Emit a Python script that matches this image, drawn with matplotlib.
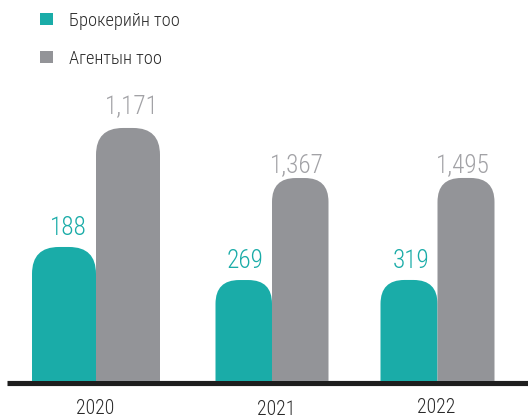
import matplotlib
matplotlib.use("Agg")
import matplotlib.pyplot as plt
from matplotlib.patches import FancyBboxPatch, Rectangle

plt.rcParams['font.family'] = ['Roboto Condensed', 'DejaVu Sans']
plt.rcParams['font.weight'] = 300

# --- data ---
years = ['2020', '2021', '2022']
broker = [188, 269, 319]
agent = [1171, 1367, 1495]
series_names = ['Брокерийн тоо', 'Агентын тоо']

TEAL = '#1aaca8'
GRAY = '#939498'
GRAY_TXT = '#a2a2a6'
DARK = '#2a2a2a'

# --- layout (pixels, figure is 528x419) ---
W, H = 528, 419
BASE_Y = 381          # bar baseline
TOP_Y = 100           # top of the bar area
group_x = [96, 272, 437.5]     # join between the two bars of a group
bar_w = [64, 56.5, 57]
# each year gets its own vertical scale
group_ylim = [(-919, 1402), (-818, 2207), (-846, 2394)]
label_gap = [(12, 15), (12, 6), (12, 6)]
label_dx = [(4, 4), (1.5, -3), (2, -3.5)]
year_base = [414, 415, 413]
year_x = [95.5, 276.5, 436]

fig = plt.figure(figsize=(W / 100, H / 100), dpi=100)

# background axes in pixel coordinates for legend, baseline and year labels
base = fig.add_axes([0, 0, 1, 1])
base.set_xlim(0, W)
base.set_ylim(H, 0)
base.axis('off')


def rounded_bar(ax, x0, width, value, color, lo, aspect):
    r = width * 0.42
    # start the box below the axes so only the top corners show rounded
    bottom = lo - r * aspect * 3
    box = FancyBboxPatch((x0, bottom), width, value - bottom,
                         boxstyle=f"round,pad=0,rounding_size={r}",
                         mutation_aspect=aspect, fc=color, ec='none')
    ax.add_patch(box)


area_h = BASE_Y - TOP_Y
px = 0.72  # points per pixel at dpi 100
for i, year in enumerate(years):
    ax = fig.add_axes([0, (H - BASE_Y) / H, 1, area_h / H])
    ax.set_xlim(0, W)
    lo, hi = group_ylim[i]
    ax.set_ylim(lo, hi)
    ax.axis('off')
    ax.patch.set_alpha(0)
    aspect = (hi - lo) / area_h

    w = bar_w[i]
    xc = group_x[i]
    rounded_bar(ax, xc - w, w, broker[i], TEAL, lo, aspect)
    rounded_bar(ax, xc, w, agent[i], GRAY, lo, aspect)

    ax.annotate(f"{broker[i]:,}", (xc - w / 2, broker[i]),
                xytext=(label_dx[i][0] * px, label_gap[i][0] * px),
                textcoords='offset points',
                ha='center', va='baseline', fontsize=18.2, color=TEAL)
    ax.annotate(f"{agent[i]:,}", (xc + w / 2, agent[i]),
                xytext=(label_dx[i][1] * px, label_gap[i][1] * px),
                textcoords='offset points',
                ha='center', va='baseline', fontsize=18.2, color=GRAY_TXT)

    base.text(year_x[i], year_base[i], year, ha='center', va='baseline',
              fontsize=14.2, color=DARK)

# baseline
base.plot([7, W], [383, 383], color='#1e1e1e', lw=3.7, solid_capstyle='butt',
          zorder=5)

# legend
for j, (name, col) in enumerate(zip(series_names, [TEAL, GRAY])):
    y = 13 + j * 38
    base.add_patch(Rectangle((40, y), 12.5, 12.5, fc=col, ec='none'))
    base.text(69, y + 13, name, ha='left', va='baseline', fontsize=13.2,
              color=DARK)

fig.savefig('out.png', dpi=100)
